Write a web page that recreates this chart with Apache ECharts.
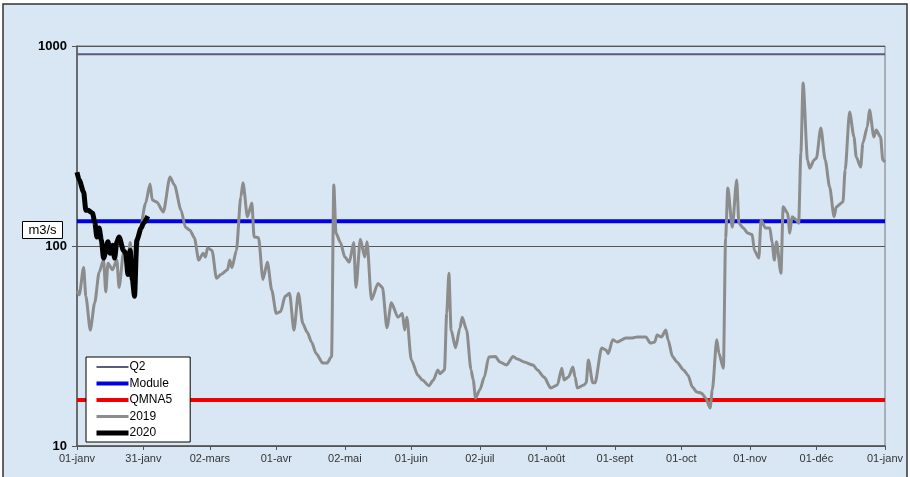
<!DOCTYPE html>
<html>
<head>
<meta charset="utf-8">
<script src="https://cdn.jsdelivr.net/npm/echarts@6/dist/echarts.min.js"></script>
<style>
  html, body { margin: 0; padding: 0; background: #fff; }
  #chart { width: 910px; height: 477px; }
</style>
</head>
<body>
<div id="chart"></div>
<script>
// axe des x : jours depuis le 01-janv
const tickDays = [0, 30, 60, 90, 121, 151, 182, 212, 243, 273, 304, 334, 365];
const tickLabels = ['01-janv', '31-janv', '02-mars', '01-avr', '02-mai', '01-juin', '02-juil',
  '01-août', '01-sept', '01-oct', '01-nov', '01-déc', '01-janv'];

// débits de référence (m3/s)
const q2 = 910;
const module = 133;
const qmna5 = 17;

// année 2019
const days2019 = [0, 1, 3, 4, 6, 8, 10, 12, 13, 14, 16, 18, 19, 21, 23, 24, 25, 26, 28, 31,
  33, 34, 36, 39, 42, 44, 47, 49, 51, 53, 55, 57, 58, 59, 61, 63, 65, 68, 69, 70,
  72, 74, 75, 77, 79, 80, 82, 84, 86, 88, 90, 92, 94, 96, 98, 100, 102, 104, 106, 108,
  111, 113, 115, 116, 117, 119, 121, 123, 125, 126, 128, 130, 131, 133, 136, 138, 140, 142, 145, 147,
  148, 149, 151, 154, 156, 159, 161, 163, 164, 166, 167, 168, 169, 171, 173, 174, 176, 178, 179, 180,
  182, 184, 186, 189, 191, 194, 197, 199, 202, 206, 208, 211, 214, 217, 219, 220, 222, 224, 225, 226,
  229, 230, 231, 233, 234, 237, 239, 240, 242, 244, 248, 251, 253, 257, 259, 261, 262, 264, 266, 267,
  269, 271, 274, 276, 278, 280, 282, 284, 286, 287, 289, 290, 292, 293, 294, 296, 298, 299, 301, 303,
  305, 306, 308, 309, 311, 313, 314, 315, 316, 318, 319, 321, 322, 323, 325, 326, 327, 328, 330, 331,
  333, 334, 336, 338, 340, 342, 343, 346, 347, 349, 351, 352, 354, 355, 357, 358, 360, 361, 363, 364,
  365];
const flow2019 = [60, 57, 78, 56, 38, 52, 74, 85, 59, 82, 76, 85, 62, 92, 79, 104, 85, 72, 111, 164,
  204, 170, 166, 148, 221, 202, 151, 124, 120, 110, 85, 92, 88, 98, 95, 69, 72, 76, 85, 78,
  95, 176, 207, 140, 164, 111, 110, 68, 83, 60, 46, 47, 56, 58, 38, 58, 41, 37, 33, 29,
  26, 26, 28, 202, 116, 104, 88, 83, 104, 62, 108, 88, 105, 54, 65, 62, 39, 52, 44, 46,
  38, 44, 27, 22.6, 21.4, 20, 21.4, 24, 23, 24, 46, 73, 38, 31, 39, 44, 38, 24, 21.4, 17.4,
  19.1, 22.1, 27.9, 28, 26.3, 25.4, 28, 27.2, 26.3, 25.4, 24, 22.1, 19.5, 20.2, 24.5, 21.4, 22.1, 24.8, 22.1, 19.5,
  20.2, 20.7, 26.9, 20.7, 20.7, 30.9, 30.2, 29, 34, 33.1, 34.7, 34.7, 35.1, 35.1, 32.7, 33.1, 35.9, 35.1, 38, 34,
  28, 26.3, 24, 22.6, 19.7, 18.6, 18.4, 17.4, 15.5, 19.1, 34, 29, 24.5, 110, 195, 124, 214, 130, 123, 116,
  114, 95, 87, 135, 123, 123, 104, 85, 105, 73, 157, 146, 116, 140, 135, 130, 292, 653, 269, 245,
  269, 275, 389, 269, 197, 140, 157, 166, 240, 468, 351, 279, 248, 327, 394, 479, 351, 380, 351, 269,
  263];

// année 2020
const days2020 = [0, 1, 3, 4, 5, 7, 8, 9, 10, 11, 12, 14, 15, 16, 17, 18, 19, 21, 22, 23, 24, 25, 26, 27, 29, 30, 32];
const flow2020 = [234, 214, 186, 151, 151, 146, 132, 111, 123, 107, 87, 105, 92, 101, 87, 105, 111, 95, 92, 72, 95, 68, 56, 107, 123, 130, 141];

const chart = echarts.init(document.getElementById('chart'));

const pairs = (xs, ys) => xs.map((d, i) => [d, ys[i]]);
const flat = (v) => [[0, v], [365, v]];
const font = 'Liberation Sans, Arial, sans-serif';

const option = {
  backgroundColor: '#ffffff',
  animation: false,
  graphic: [
    {
      type: 'rect',
      z: -10,
      silent: true,
      shape: { x: 3, y: 4, width: 904, height: 480 },
      style: { fill: '#d9e7f4', stroke: '#333', lineWidth: 1.5 }
    },
    {
      type: 'group',
      left: 22,
      top: 221,
      children: [
        {
          type: 'rect',
          shape: { x: 0, y: 0, width: 40, height: 17 },
          style: { fill: '#fff', stroke: '#000', lineWidth: 1 }
        },
        {
          type: 'text',
          x: 20,
          y: 9,
          style: {
            text: 'm3/s', fill: '#000', font: '13px ' + font,
            align: 'center', verticalAlign: 'middle'
          }
        }
      ]
    }
  ],
  grid: {
    left: 77,
    right: 25,
    top: 46,
    bottom: 31,
    show: true,
    borderColor: '#777',
    borderWidth: 1,
    backgroundColor: 'transparent'
  },
  legend: {
    orient: 'vertical',
    left: 86,
    top: 357,
    backgroundColor: '#fff',
    borderColor: '#000',
    borderWidth: 1,
    borderRadius: 0,
    padding: [4, 18, 3, 8],
    itemGap: 4.5,
    itemWidth: 32,
    itemHeight: 10,
    itemStyle: { color: 'rgba(0,0,0,0)', borderColor: 'rgba(0,0,0,0)', borderWidth: 0 },
    lineStyle: { width: 'inherit' },
    textStyle: { fontFamily: font, fontSize: 12, color: '#000', padding: [0, 0, 0, -4] },
    data: ['Q2', 'Module', 'QMNA5', '2019', '2020']
  },
  xAxis: {
    type: 'value',
    min: 0,
    max: 365,
    axisLine: { show: true, lineStyle: { color: '#555', width: 1.5 } },
    axisTick: { show: true, length: 4, customValues: tickDays, lineStyle: { color: '#555' } },
    splitLine: { show: false },
    axisLabel: {
      customValues: tickDays,
      formatter: (v) => tickLabels[tickDays.indexOf(v)],
      fontFamily: font,
      fontSize: 11,
      color: '#333',
      margin: 7
    }
  },
  yAxis: {
    type: 'log',
    logBase: 10,
    min: 10,
    max: 1000,
    axisLine: { show: true, lineStyle: { color: '#555', width: 1.5 } },
    axisTick: { show: true, length: 5, lineStyle: { color: '#555' } },
    minorTick: { show: false },
    splitLine: { show: true, lineStyle: { color: '#555', width: 1 } },
    axisLabel: {
      formatter: (v) => String(Math.round(v)),
      fontFamily: font,
      fontSize: 13,
      fontWeight: 'bold',
      color: '#000',
      margin: 10
    }
  },
  series: [
    {
      name: 'Q2',
      type: 'line',
      data: flat(q2),
      symbol: 'none',
      lineStyle: { color: '#5a5a7e', width: 2 },
      itemStyle: { color: '#5a5a7e' }
    },
    {
      name: 'Module',
      type: 'line',
      data: flat(module),
      symbol: 'none',
      lineStyle: { color: '#0000e6', width: 4 },
      itemStyle: { color: '#0000e6' }
    },
    {
      name: 'QMNA5',
      type: 'line',
      data: flat(qmna5),
      symbol: 'none',
      lineStyle: { color: '#f00000', width: 4 },
      itemStyle: { color: '#f00000' }
    },
    {
      name: '2019',
      type: 'line',
      data: pairs(days2019, flow2019),
      symbol: 'none',
      smooth: 0.25,
      smoothMonotone: 'x',
      lineStyle: { color: '#8c8c8c', width: 3 },
      itemStyle: { color: '#8c8c8c' }
    },
    {
      name: '2020',
      type: 'line',
      data: pairs(days2020, flow2020),
      symbol: 'none',
      smooth: 0.25,
      smoothMonotone: 'x',
      lineStyle: { color: '#000', width: 5 },
      itemStyle: { color: '#000' }
    }
  ]
};

chart.setOption(option);
</script>
</body>
</html>
